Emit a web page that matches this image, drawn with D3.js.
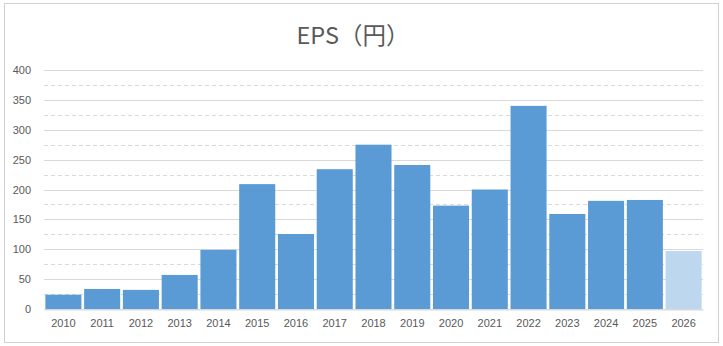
<!DOCTYPE html>
<html>
<head>
<meta charset="utf-8">
<script src="https://cdn.jsdelivr.net/npm/d3@7"></script>
<style>
  html, body { margin: 0; padding: 0; background: #fff; }
  svg { display: block; font-family: Calibri, Carlito, "Liberation Sans", "Noto Sans", sans-serif; }
</style>
</head>
<body>
<svg id="chart" width="723" height="346"></svg>
<script>
// EPS per fiscal year (yen); the final year is a forecast
const years = ["2010","2011","2012","2013","2014","2015","2016","2017","2018","2019","2020","2021","2022","2023","2024","2025","2026"];
const eps = [24, 33.5, 32, 57, 99, 209, 125.5, 234, 275, 241, 173, 200, 340, 159, 181, 182.5, 97];
const forecastYears = ["2026"];
const yMajorTicks = [0, 50, 100, 150, 200, 250, 300, 350, 400];
const yMinorTicks = [25, 75, 125, 175, 225, 275, 325, 375];

const svg = d3.select("#chart");
const W = 723, H = 346;
const margin = { left: 44, right: 20, top: 70, bottom: 37 };

// outer frame
svg.append("rect")
  .attr("x", 4.5).attr("y", 3.5)
  .attr("width", W - 9).attr("height", H - 7)
  .attr("fill", "#fff").attr("stroke", "#d0d0d0").attr("stroke-width", 1);

// title
svg.append("text")
  .attr("x", 353).attr("y", 44)
  .attr("text-anchor", "middle")
  .attr("fill", "#595959")
  .style("font-size", "23.5px")
  .style("font-family", "\"Noto Sans CJK JP\", \"Noto Sans\", sans-serif")
  .text("EPS（円）");

const x = d3.scaleBand()
  .domain(years)
  .range([margin.left, W - margin.right])
  .paddingInner(0.07)
  .paddingOuter(0.035);

const y = d3.scaleLinear()
  .domain([0, 400])
  .range([H - margin.bottom, margin.top]);

// minor dashed gridlines
svg.append("g")
  .selectAll("line")
  .data(yMinorTicks)
  .join("line")
  .attr("x1", margin.left).attr("x2", W - margin.right)
  .attr("y1", d => Math.round(y(d)) + 0.5).attr("y2", d => Math.round(y(d)) + 0.5)
  .attr("stroke", "#d9d9d9").attr("stroke-width", 1)
  .attr("stroke-dasharray", "4,3");

// major gridlines
svg.append("g")
  .selectAll("line")
  .data(yMajorTicks)
  .join("line")
  .attr("x1", margin.left).attr("x2", W - margin.right)
  .attr("y1", d => Math.round(y(d)) + 0.5).attr("y2", d => Math.round(y(d)) + 0.5)
  .attr("stroke", "#d9d9d9").attr("stroke-width", 1);

// bars
svg.append("g")
  .selectAll("rect")
  .data(years.map((yr, i) => ({ yr, v: eps[i] })))
  .join("rect")
  .attr("x", d => x(d.yr))
  .attr("width", x.bandwidth())
  .attr("y", d => y(d.v))
  .attr("height", d => y(0) - y(d.v))
  .attr("fill", d => forecastYears.includes(d.yr) ? "#BDD7EE" : "#5B9BD5");

// y axis labels
const yAxis = d3.axisLeft(y).tickValues(yMajorTicks).tickSize(0).tickPadding(0);
svg.append("g")
  .attr("transform", `translate(${31},0)`)
  .call(yAxis)
  .call(g => g.select(".domain").remove())
  .call(g => g.selectAll("text").attr("fill", "#595959").style("font-size", "11px"));

// x axis
const xAxis = d3.axisBottom(x).tickSize(0).tickPadding(10);
svg.append("g")
  .attr("transform", `translate(0,${Math.round(y(0)) + 0.5})`)
  .call(xAxis)
  .call(g => g.select(".domain").attr("stroke", "#d9d9d9"))
  .call(g => g.selectAll("text").attr("fill", "#595959").style("font-size", "11px"));
</script>
</body>
</html>
